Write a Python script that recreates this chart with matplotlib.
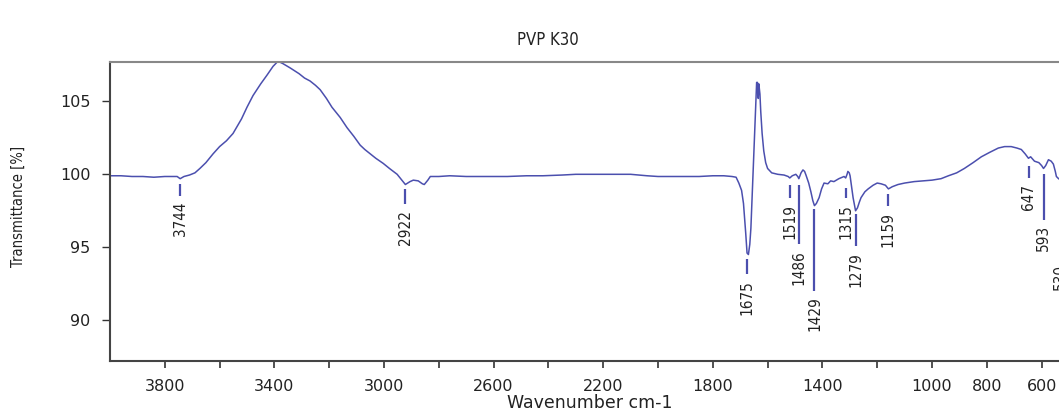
import matplotlib
matplotlib.use("Agg")
import matplotlib.pyplot as plt
import numpy as np

# FT-IR spectrum of PVP K30: wavenumber (cm-1) and transmittance (%)
wavenumber = [
    4000, 3960, 3920, 3880, 3840, 3800, 3770, 3755, 3744, 3730, 3710, 3690,
    3672, 3650, 3624, 3600, 3575, 3551, 3520, 3500, 3478, 3450, 3427, 3405,
    3387, 3370, 3343, 3310, 3290, 3270, 3250, 3233, 3210, 3190, 3160, 3135,
    3110, 3087, 3070, 3050, 3030, 3003, 2980, 2952, 2935, 2922, 2905, 2893,
    2875, 2860, 2853, 2840, 2831, 2800, 2760, 2700, 2650, 2600, 2550, 2480,
    2420, 2350, 2300, 2250, 2180, 2100, 2070, 2040, 2000, 1950, 1900, 1850,
    1800, 1760, 1730, 1715, 1705, 1695, 1688, 1680, 1675, 1670, 1665, 1661,
    1657, 1654, 1650, 1646, 1643, 1640, 1637, 1634, 1632, 1628, 1625, 1620,
    1614, 1607, 1600, 1585, 1563, 1540, 1525, 1519, 1510, 1497, 1490, 1486,
    1478, 1471, 1465, 1460, 1450, 1442, 1435, 1429, 1422, 1412, 1403, 1394,
    1380, 1370, 1358, 1340, 1321, 1315, 1310, 1307, 1302, 1299, 1294, 1288,
    1282, 1279, 1272, 1265, 1259, 1245, 1233, 1215, 1200, 1186, 1170, 1159,
    1145, 1124, 1100, 1065, 1030, 1000, 967, 940, 910, 882, 850, 820,
    790, 758, 735, 711, 690, 674, 660, 648, 640, 626, 610, 600,
    593, 585, 575, 565, 557, 550, 546, 538, 530, 524, 520,
]
transmittance = [
    99.9, 99.9, 99.85, 99.85, 99.8, 99.85, 99.85, 99.85, 99.7, 99.85, 99.95, 100.1,
    100.4, 100.8, 101.4, 101.9, 102.3, 102.8, 103.8, 104.6, 105.4, 106.2, 106.8, 107.4,
    107.75, 107.6, 107.3, 106.9, 106.6, 106.4, 106.1, 105.8, 105.2, 104.6, 103.9, 103.2,
    102.6, 102.0, 101.7, 101.4, 101.1, 100.75, 100.4, 100.0, 99.6, 99.3, 99.5, 99.6,
    99.55, 99.35, 99.3, 99.6, 99.85, 99.85, 99.9, 99.85, 99.85, 99.85, 99.85, 99.9,
    99.9, 99.95, 100.0, 100.0, 100.0, 100.0, 99.95, 99.9, 99.85, 99.85, 99.85, 99.85,
    99.9, 99.9, 99.85, 99.8, 99.4, 98.9, 98.0, 96.0, 94.6, 94.5, 95.2, 96.3,
    98.2, 99.5, 101.5, 103.4, 105.0, 106.3, 106.3, 105.2, 106.2, 105.5, 104.3, 102.8,
    101.6, 100.8, 100.4, 100.1, 100.0, 99.95, 99.85, 99.75, 99.9, 100.0, 99.85, 99.7,
    100.1, 100.3, 100.2, 99.95, 99.4, 98.8, 98.2, 97.85, 98.0, 98.4, 99.0, 99.4,
    99.35, 99.55, 99.5, 99.7, 99.85, 99.75, 100.0, 100.2, 100.1, 99.9, 99.2, 98.4,
    97.8, 97.5, 97.7, 98.1, 98.4, 98.8, 99.0, 99.25, 99.4, 99.35, 99.25, 99.0,
    99.15, 99.3, 99.4, 99.5, 99.55, 99.6, 99.7, 99.9, 100.1, 100.4, 100.8, 101.2,
    101.5, 101.8, 101.9, 101.9, 101.8, 101.7, 101.4, 101.1, 101.2, 100.9, 100.8, 100.6,
    100.4, 100.6, 101.0, 100.9, 100.7, 100.2, 99.85, 99.7, 99.6, 100.5, 101.4,
]

# Peak picks and their marker extents (transmittance at top / bottom of marker)
peak_positions = [3744, 2922, 1675, 1519, 1486, 1429, 1315, 1279, 1159, 647, 593, 530]
marker_top = [99.32, 98.97, 94.18, 99.3, 99.3, 97.6, 99.04, 97.26, 98.63, 100.55, 100.0, 99.73]
marker_bottom = [98.5, 97.95, 93.15, 98.36, 95.2, 92.0, 98.36, 95.07, 97.8, 99.73, 96.9, 94.25]

x_ticks_major = [3800, 3400, 3000, 2600, 2200, 1800, 1400, 1000, 800, 600]
y_ticks = [90, 95, 100, 105]

line_color = "#4b4fae"
W, H = 1059, 411
fig = plt.figure(figsize=(W / 100, H / 100), dpi=100)
ax = fig.add_axes([110 / W, 1 - 361 / H, (1069 - 110) / W, (361 - 62) / H])

ax.plot(wavenumber, transmittance, color=line_color, lw=1.1)

for wn, top, bot in zip(peak_positions, marker_top, marker_bottom):
    ax.plot([wn, wn], [top, bot], color=line_color, lw=1.6, solid_capstyle="butt")
    ax.annotate(str(wn), xy=(wn, bot), xytext=(0, -4), textcoords="offset points",
                rotation=90, ha="center", va="top", fontsize=11,
                family="DejaVu Sans", fontstretch="condensed",
                color="#222222", annotation_clip=False)

ax.set_xlim(4000, 500)
ax.set_ylim(87.2, 107.7)
minor_and_major = np.arange(3800, 499, -200)
ax.set_xticks(minor_and_major)
ax.set_xticklabels([str(t) if t in x_ticks_major else "" for t in minor_and_major])
ax.set_yticks(y_ticks)

ax.tick_params(axis="x", direction="out", length=5, width=1.2, pad=8,
               labelsize=11.5, colors="#333333")
ax.tick_params(axis="y", direction="out", length=6, width=1.0, pad=8,
               labelsize=11.5, colors="#333333")
for lab in ax.get_xticklabels() + ax.get_yticklabels():
    lab.set_family("DejaVu Sans")
    lab.set_color("#222222")

ax.spines["left"].set_color("#444444")
ax.spines["left"].set_linewidth(1.5)
ax.spines["bottom"].set_color("#444444")
ax.spines["bottom"].set_linewidth(1.5)
ax.spines["top"].set_color("#888888")
ax.spines["top"].set_linewidth(1.5)
ax.spines["right"].set_visible(False)

fig.text(548 / W, 1 - 40 / H, "PVP K30", ha="center", va="center",
         fontsize=12, family="DejaVu Sans", fontstretch="condensed", color="#222222")
fig.text(590 / W, 1 - 403 / H, "Wavenumber cm-1", ha="center", va="center",
         fontsize=12.5, family="DejaVu Sans", color="#222222")
fig.text(18 / W, 1 - 206 / H, "Transmittance [%]", ha="center", va="center",
         rotation=90, fontsize=10.5, family="DejaVu Sans", fontstretch="condensed",
         color="#222222")

fig.savefig("out.png", dpi=100)
